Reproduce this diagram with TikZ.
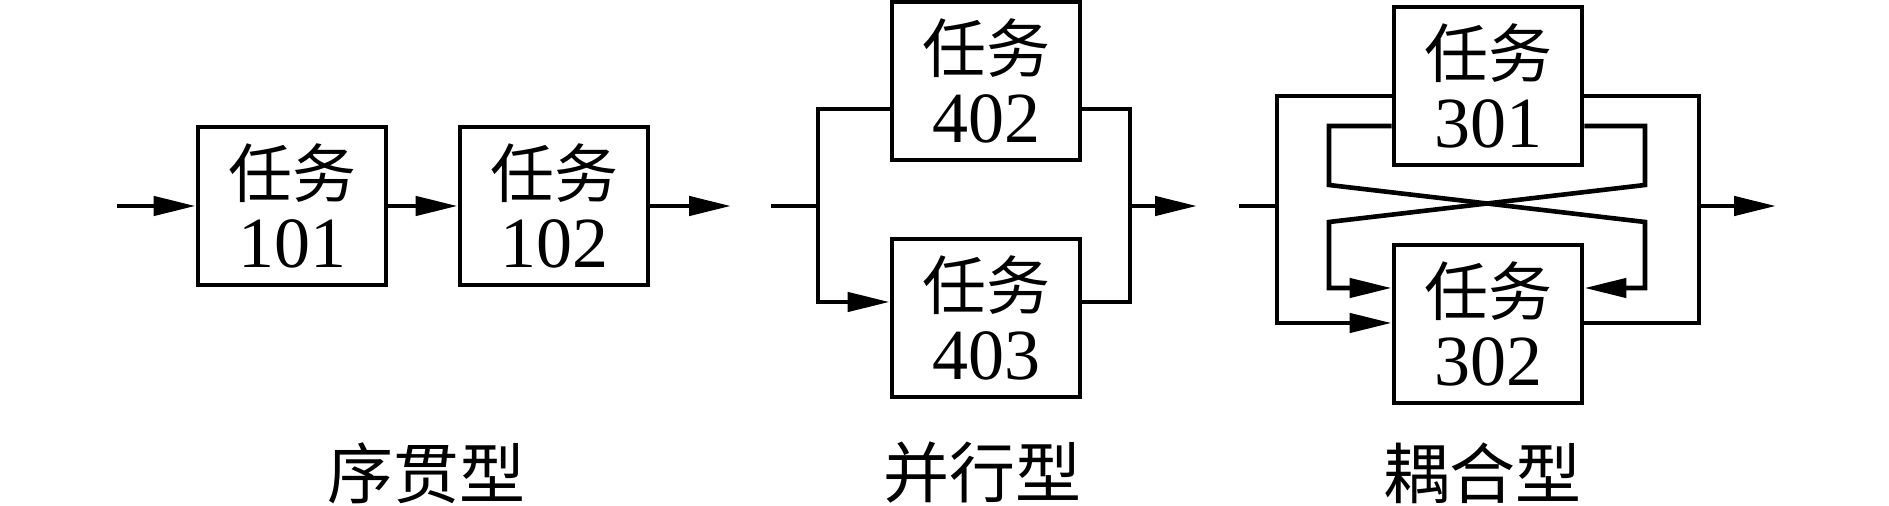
\documentclass[tikz,border=0pt]{standalone}
\usepackage{fontspec}
\setmainfont{Liberation Serif}
\newfontfamily\cjk{Noto Sans CJK SC}
\usetikzlibrary{arrows.meta}
\newcommand\rw{{\cjk\fontsize{32pt}{35pt}\selectfont 任务}}
\begin{document}
\begin{tikzpicture}[x=0.5pt,y=-0.5pt,
  line width=2.3pt,
  every path/.style={line join=miter},
  tip/.style={-{Triangle[length=21pt,width=9.5pt]}},
  task/.style={draw,line width=2.4pt,minimum width=94pt,minimum height=79pt,inner sep=0pt,align=center,
     font=\fontsize{36pt}{35pt}\selectfont},
  typelabel/.style={font=\cjk\fontsize{33pt}{36pt}\selectfont,inner sep=0pt}]
\useasboundingbox (0,0) rectangle (1889,506);
% sequential
\node[task] (b101) at (292,206) {\rw\\101};
\node[task] (b102) at (554,206) {\rw\\102};
\coordinate (sin) at (117,206);
\coordinate (sout) at (731,206);
\draw[tip] (sin) -- (b101.west);
\draw[tip] (b101.east) -- (b102.west);
\draw[tip] (b102.east) -- (sout);
\node[typelabel] (l1) at (426,473) {序贯型};
% parallel
\node[task] (b402) at (986,81) {\rw\\402};
\node[task] (b403) at (986,318) {\rw\\403};
\coordinate (pin) at (771,206);
\coordinate (pl) at (818,206);
\coordinate (plt) at (818,109);
\coordinate (plb) at (818,302);
\coordinate (prt) at (1130,109);
\coordinate (prb) at (1130,302);
\coordinate (pr) at (1130,206);
\coordinate (pout) at (1197,206);
\draw (pin) -- (pl);
\draw[tip] (b402.west |- plt) -- (plt) -- (plb) -- (plb -| b403.west);
\draw (b402.east |- prt) -- (prt) -- (prb) -- (prb -| b403.east);
\draw[tip] (pr) -- (pout);
\node[typelabel] (l2) at (982,473) {并行型};
% coupled
\node[task] (b301) at (1488,86) {\rw\\301};
\node[task] (b302) at (1488,324) {\rw\\302};
\coordinate (cin) at (1239,206);
\coordinate (cl) at (1277,206);
\coordinate (clt) at (1277,96);
\coordinate (clb) at (1277,323);
\coordinate (crt) at (1699,96);
\coordinate (crb) at (1699,323);
\coordinate (cr) at (1699,206);
\coordinate (cout) at (1776,206);
\coordinate (il1) at (1329,126);
\coordinate (il2) at (1329,185);
\coordinate (il3) at (1329,222);
\coordinate (il4) at (1329,288);
\coordinate (ir1) at (1645,126);
\coordinate (ir2) at (1645,185);
\coordinate (ir3) at (1645,222);
\coordinate (ir4) at (1645,288);
\draw (cin) -- (cl);
\draw[tip] (b301.west |- clt) -- (clt) -- (clb) -- (clb -| b302.west);
\draw (b301.east |- crt) -- (crt) -- (crb) -- (crb -| b302.east);
\draw[tip] (cr) -- (cout);
\draw[tip] (b301.west |- il1) -- (il1) -- (il2) -- (ir3) -- (ir4) -- (ir4 -| b302.east);
\draw[tip] (b301.east |- ir1) -- (ir1) -- (ir2) -- (il3) -- (il4) -- (il4 -| b302.west);
\node[typelabel] (l3) at (1482,473) {耦合型};
\end{tikzpicture}
\end{document}
